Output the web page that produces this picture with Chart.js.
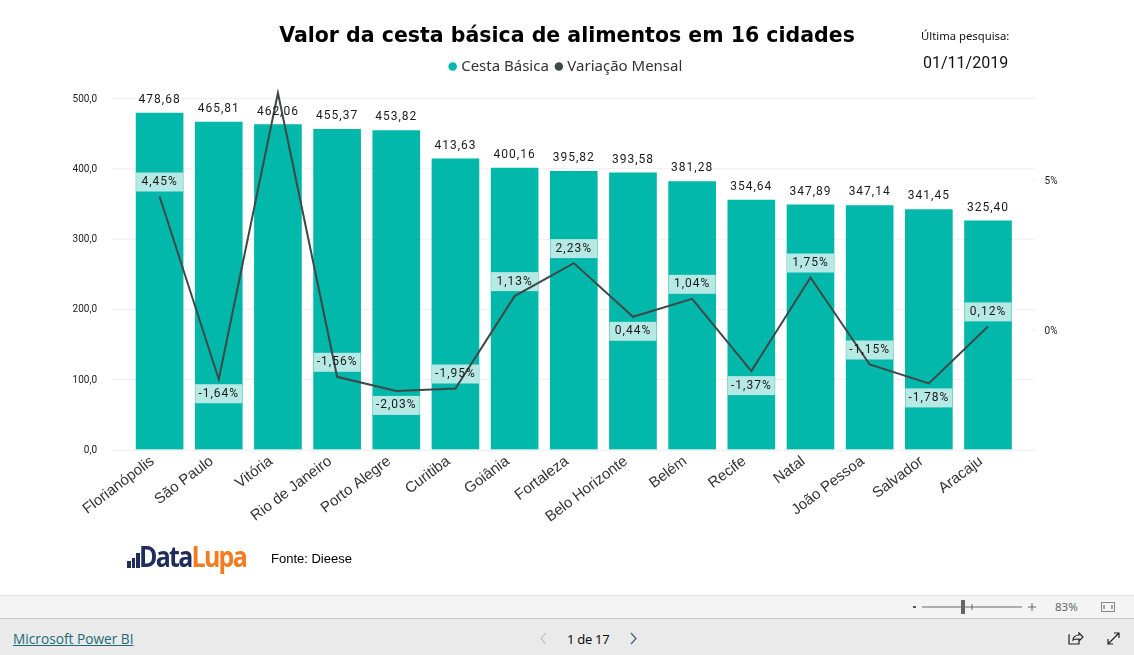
<!DOCTYPE html>
<html lang="pt-BR">
<head>
<meta charset="utf-8">
<title>Valor da cesta básica</title>
<script src="https://cdn.jsdelivr.net/npm/chart.js@4"></script>
<style>
  html, body { margin: 0; padding: 0; background: #fff; overflow: hidden; }
  #page { position: relative; width: 1134px; height: 655px; overflow: hidden; }
  canvas { position: absolute; left: 0; top: 0; }
  .txt { position: absolute; white-space: nowrap; color: #111; }
  #ultima { left: 921px; top: 28px; font: 11.3px "Noto Sans", sans-serif; }
  #data { left: 923px; top: 53px; font: 16px Roboto, sans-serif; }
  #fonte { left: 271px; top: 551px; font: 13px "Liberation Sans", Arial, sans-serif; color: #000; }
  #logo { left: 139px; top: 538px; font: 700 29px/36px "Open Sans", sans-serif; letter-spacing: -2px; color: #1f2d5c; transform: scaleX(.86); transform-origin: left center; }
  #logo span { color: #f47b20; }
  .lb { position: absolute; background: #1f2d5c; }
  #zoomBar { position: absolute; left: 0; top: 595px; width: 1134px; height: 22px; background: #f4f4f4; border-top: 1px solid #e0e0e0; border-bottom: 1px solid #c8c8c8; }
  #navBar { position: absolute; left: 0; top: 619px; width: 1134px; height: 36px; background: #eaeaea; }
  #pbi { left: 13px; top: 629px; font: 13.7px "Open Sans", sans-serif; color: #1c6b75; text-decoration: underline; }
  #pag { left: 567px; top: 630px; font: 13px "Noto Sans", sans-serif; letter-spacing: -.3px; color: #111; }
  #pct { left: 1055px; top: 599px; font: 11.5px "Noto Sans", sans-serif; color: #666; }
  svg { position: absolute; left: 0; top: 0; }
</style>
</head>
<body>
<div id="page">
  <canvas id="grafico" width="1134" height="595"></canvas>
  <div class="txt" id="ultima">Última pesquisa:</div>
  <div class="txt" id="data">01/11/2019</div>
  <div class="lb" style="left:127px;top:561px;width:3.500px;height:7px"></div>
  <div class="lb" style="left:131.500px;top:558px;width:3.500px;height:10px"></div>
  <div class="lb" style="left:136px;top:553px;width:3.500px;height:15px"></div>
  <div class="txt" id="logo">Data<span>Lupa</span></div>
  <div class="txt" id="fonte">Fonte: Dieese</div>
  <div id="zoomBar"></div>
  <div id="navBar"></div>
  <div class="txt" id="pbi">Microsoft Power BI</div>
  <div class="txt" id="pag">1 de 17</div>
  <div class="txt" id="pct">83%</div>
  <svg width="1134" height="655" fill="none">
    <path d="M913 607h3" stroke="#555" stroke-width="2"/>
    <path d="M922 607h100" stroke="#666"/>
    <path d="M972 604v6" stroke="#666"/>
    <rect x="961" y="600" width="4" height="14" fill="#666"/>
    <path d="M1028 607h8M1032 603v8" stroke="#666"/>
    <rect x="1101.500" y="602.500" width="13" height="9" stroke="#888"/>
    <path d="M1104 605v4M1112 605v4" stroke="#555"/>
    <path d="M546 633l-5 5.500 5 5.500" stroke="#c4c4c4" stroke-width="1.300"/>
    <path d="M631 633l5 5.500-5 5.500" stroke="#43657a" stroke-width="1.300"/>
    <path d="M1070 635h-1v9h10v-3M1073 640c0-3 3-5 6-5v-2l4 4-4 4v-2c-3 0-5 0-6 1z" stroke="#222" stroke-width="1.200"/>
    <path d="M1108 644l11-11M1114 633h5v5M1108 639v5h5" stroke="#222" stroke-width="1.200"/>
  </svg>
</div>
<script>
const cidades = ["Florianópolis", "São Paulo", "Vitória", "Rio de Janeiro", "Porto Alegre", "Curitiba", "Goiânia", "Fortaleza", "Belo Horizonte", "Belém", "Recife", "Natal", "João Pessoa", "Salvador", "Aracaju"];
const cestaBasica = [478.68, 465.81, 462.06, 455.37, 453.82, 413.63, 400.16, 395.82, 393.58, 381.28, 354.64, 347.89, 347.14, 341.45, 325.40];
// Vitória não tem rótulo no original, valor lido da linha
const variacaoMensal = [4.45, -1.64, 7.9, -1.56, -2.03, -1.95, 1.13, 2.23, 0.44, 1.04, -1.37, 1.75, -1.15, -1.78, 0.12];
const ticksValor = [0, 100, 200, 300, 400, 500];
const ticksVariacao = [0, 5];

const semRotulo = ["Vitória"];
const rotuloAbaixo = ["São Paulo", "Porto Alegre", "Belo Horizonte", "Recife", "Salvador"];

const fonteNum = "Roboto, sans-serif";
const virgula = (v, n) => v.toFixed(n).replace(".", ",");

const rotulos = {
  id: "rotulos",
  // grade mais larga que a area do grafico
  beforeDatasetsDraw(chart) {
    const { ctx, chartArea, scales } = chart;
    ctx.save();
    ctx.strokeStyle = "#f1f1f1";
    ctx.lineWidth = 1;
    scales.y.ticks.forEach((t) => {
      const py = Math.round(scales.y.getPixelForValue(t.value)) + 0.5;
      ctx.beginPath();
      ctx.moveTo(chartArea.left - 18, py);
      ctx.lineTo(chartArea.right + 17.5, py);
      ctx.stroke();
    });
    scales.y1.ticks.forEach((t) => {
      const py = Math.round(scales.y1.getPixelForValue(t.value)) + 0.5;
      ctx.beginPath();
      ctx.moveTo(chartArea.right + 14, py);
      ctx.lineTo(chartArea.right + 18, py);
      ctx.stroke();
    });
    ctx.restore();
  },
  afterDatasetDraw(chart, args) {
    if (args.index !== 0) return;
    const { ctx } = chart;
    const barras = chart.getDatasetMeta(0).data;
    const pontos = chart.getDatasetMeta(1).data;
    ctx.save();
    ctx.fillStyle = "#b6e9e4";
    cidades.forEach((c, i) => {
      if (semRotulo.includes(c)) return;
      const topo = rotuloAbaixo.includes(c) ? pontos[i].y + 5 : pontos[i].y - 24;
      ctx.fillRect(barras[i].x - barras[i].width / 2, topo, barras[i].width, 19);
    });
    ctx.restore();
  },
  afterDatasetsDraw(chart) {
    const { ctx } = chart;
    const barras = chart.getDatasetMeta(0).data;
    const pontos = chart.getDatasetMeta(1).data;
    ctx.save();
    ctx.textAlign = "center";
    ctx.textBaseline = "middle";
    ctx.font = "12px " + fonteNum;
    ctx.letterSpacing = "1px";
    ctx.fillStyle = "#1a1a1a";
    cidades.forEach((c, i) => {
      ctx.fillText(virgula(cestaBasica[i], 2), barras[i].x, barras[i].y - 13);
      if (semRotulo.includes(c)) return;
      const meio = rotuloAbaixo.includes(c) ? pontos[i].y + 14.5 : pontos[i].y - 14.5;
      ctx.fillText(virgula(variacaoMensal[i], 2) + "%", barras[i].x, meio);
    });
    ctx.restore();
  },
};

new Chart(document.getElementById("grafico"), {
  type: "bar",
  data: {
    labels: cidades,
    datasets: [
      {
        label: "Cesta Básica",
        data: cestaBasica,
        backgroundColor: "#01b8aa",
        borderWidth: 0,
        barThickness: 47,
        yAxisID: "y",
        order: 2,
      },
      {
        type: "line",
        label: "Variação Mensal",
        data: variacaoMensal,
        borderColor: "#3f4848",
        backgroundColor: "#3f4848",
        borderWidth: 2,
        pointRadius: 0,
        tension: 0,
        yAxisID: "y1",
        order: 1,
      },
    ],
  },
  plugins: [rotulos],
  options: {
    responsive: false,
    animation: false,
    plugins: {
      tooltip: { enabled: false },
      title: {
        display: true,
        text: "Valor da cesta básica de alimentos em 16 cidades",
        color: "#000",
        font: { family: "DejaVu Sans", size: 20.5, weight: "bold" },
        padding: { top: 24, bottom: 1.5 },
      },
      legend: {
        display: true,
        position: "top",
        labels: {
          usePointStyle: true,
          boxWidth: 2,
          boxHeight: 6,
          padding: 9,
          color: "#333",
          font: { family: "Noto Sans", size: 15 },
          sort: (a, b) => a.datasetIndex - b.datasetIndex,
          generateLabels: (chart) =>
            Chart.defaults.plugins.legend.labels.generateLabels(chart).map((item) => ({ ...item, lineWidth: 0 })),
        },
      },
    },
    scales: {
      x: {
        grid: { display: false },
        border: { display: false },
        afterFit: (s) => { s.height = 145.5; },
        ticks: {
          autoSkip: false,
          minRotation: 37,
          maxRotation: 37,
          color: "#333",
          font: { family: "Liberation Sans", size: 15 },
          padding: -5,
          labelOffset: -7,
        },
      },
      y: {
        position: "left",
        min: 0,
        max: 519.8,
        grid: { display: false },
        border: { display: false },
        afterFit: (s) => { s.width = 130; },
        afterBuildTicks: (s) => { s.ticks = ticksValor.map((v) => ({ value: v })); },
        ticks: {
          padding: 25,
          labelOffset: 1,
          color: "#222",
          font: { family: fonteNum, size: 10 },
          callback: (v) => virgula(v, 1),
        },
      },
      y1: {
        position: "right",
        min: -3.983,
        max: 8.197,
        grid: { display: false },
        border: { display: false },
        afterFit: (s) => { s.width = 116.4; },
        afterBuildTicks: (s) => { s.ticks = ticksVariacao.map((v) => ({ value: v })); },
        ticks: {
          padding: 19,
          labelOffset: 1,
          color: "#222",
          font: { family: fonteNum, size: 10 },
          callback: (v) => v + "%",
        },
      },
    },
  },
});
</script>
</body>
</html>
